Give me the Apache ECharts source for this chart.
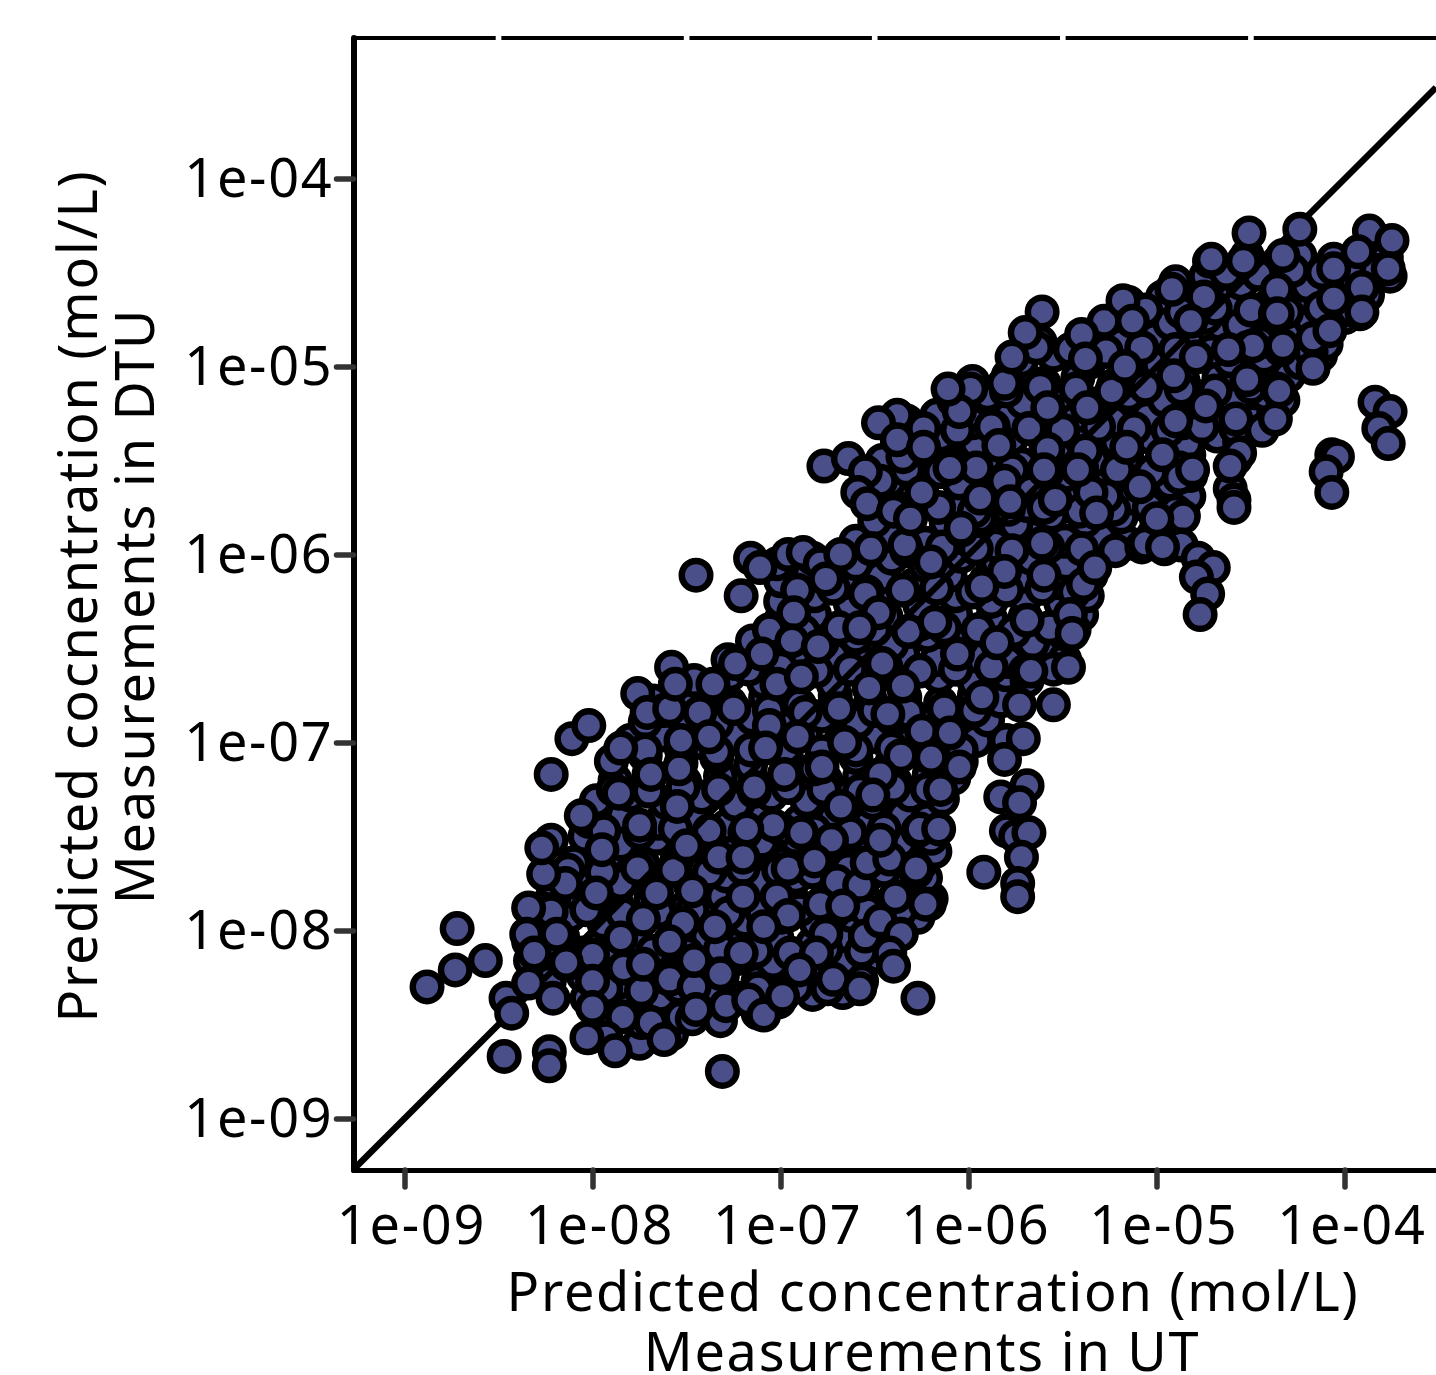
<!DOCTYPE html>
<html>
<head>
<meta charset="utf-8">
<style>html,body{margin:0;padding:0;background:#fff}#c{width:1436px;height:1375px}</style>
<script src="https://cdn.jsdelivr.net/npm/echarts@6/dist/echarts.min.js"></script>
</head>
<body>
<div id="c"></div>
<script>
// all values are log10(concentration, mol/L): [UT, DTU]
const tickExponents = [-9, -8, -7, -6, -5, -4];
const tickLabels = ['1e-09', '1e-08', '1e-07', '1e-06', '1e-05', '1e-04'];
const topBorderBreaks = [-8.5, -7.5, -6.5, -5.5, -4.5];
const identityLine = [[-9.271, -9.271], [-3.516, -3.516]];

const denseLower = [
[-8.02,-8.57],[-7.75,-8.6],[-7.58,-8.55],
[-7.96,-8.47],[-7.74,-8.49],[-7.53,-8.46],[-7.32,-8.48],[-7.12,-8.44],
[-8.03,-8.36],[-7.84,-8.38],[-7.64,-8.35],[-7.44,-8.39],[-7.22,-8.36],[-7.01,-8.38],[-6.83,-8.34],[-6.67,-8.33],
[-8.23,-8.27],[-8.05,-8.24],[-7.87,-8.28],[-7.68,-8.25],[-7.5,-8.29],[-7.31,-8.24],[-7.12,-8.27],[-6.94,-8.26],[-6.75,-8.23],[-6.57,-8.27],
[-8.33,-8.16],[-8.14,-8.18],[-7.97,-8.14],[-7.78,-8.17],[-7.6,-8.13],[-7.41,-8.18],[-7.23,-8.15],[-7.04,-8.17],[-6.86,-8.13],[-6.67,-8.16],[-6.48,-8.14],
[-8.34,-8.06],[-8.16,-8.03],[-7.95,-8.07],[-7.77,-8.04],[-7.58,-8.08],[-7.39,-8.03],[-7.2,-8.06],[-7.02,-8.04],[-6.83,-8.07],[-6.64,-8.03],[-6.46,-8.06],[-6.36,-8.02],
[-8.31,-7.95],[-8.12,-7.92],[-7.94,-7.96],[-7.75,-7.93],[-7.56,-7.97],[-7.37,-7.92],[-7.19,-7.95],[-7.0,-7.93],[-6.81,-7.96],[-6.63,-7.92],[-6.44,-7.95],[-6.27,-7.93],
[-8.23,-7.85],[-8.06,-7.82],[-7.87,-7.86],[-7.69,-7.83],[-7.5,-7.87],[-7.31,-7.82],[-7.12,-7.85],[-6.94,-7.83],[-6.75,-7.86],[-6.56,-7.82],[-6.38,-7.85],[-6.2,-7.83],
[-8.22,-7.74],[-8.04,-7.71],[-7.85,-7.75],[-7.66,-7.72],[-7.48,-7.76],[-7.29,-7.71],[-7.1,-7.74],[-6.92,-7.72],[-6.73,-7.75],[-6.54,-7.71],[-6.36,-7.74],[-6.23,-7.72],
[-8.1,-7.64],[-7.92,-7.61],[-7.73,-7.65],[-7.55,-7.62],[-7.36,-7.66],[-7.17,-7.61],[-6.98,-7.64],[-6.8,-7.62],[-6.61,-7.65],[-6.43,-7.61],[-6.25,-7.64],[-6.18,-7.58],
[-8.22,-7.52],[-8.04,-7.5],[-7.85,-7.54],[-7.66,-7.51],[-7.48,-7.55],[-7.29,-7.5],[-7.1,-7.53],[-6.92,-7.51],[-6.73,-7.54],[-6.54,-7.5],[-6.36,-7.53],[-6.2,-7.51],
[-8.02,-7.42],[-7.84,-7.39],[-7.65,-7.43],[-7.46,-7.4],[-7.28,-7.44],[-7.09,-7.39],[-6.9,-7.42],[-6.72,-7.4],[-6.53,-7.43],[-6.35,-7.39],[-6.22,-7.41]
];
const denseMiddle = [
[-7.98,-7.31],[-7.8,-7.28],[-7.61,-7.32],[-7.42,-7.29],[-7.24,-7.33],[-7.05,-7.28],[-6.86,-7.31],[-6.68,-7.29],[-6.49,-7.32],[-6.31,-7.28],[-6.14,-7.3],
[-7.88,-7.2],[-7.7,-7.17],[-7.51,-7.21],[-7.32,-7.18],[-7.14,-7.22],[-6.95,-7.17],[-6.76,-7.2],[-6.58,-7.18],[-6.39,-7.21],[-6.21,-7.17],[-6.08,-7.19],
[-7.9,-7.1],[-7.72,-7.07],[-7.53,-7.11],[-7.34,-7.08],[-7.16,-7.12],[-6.97,-7.07],[-6.78,-7.1],[-6.6,-7.08],[-6.41,-7.11],[-6.23,-7.07],[-6.04,-7.1],
[-7.8,-6.99],[-7.62,-6.96],[-7.43,-7.0],[-7.24,-6.97],[-7.06,-7.01],[-6.87,-6.96],[-6.68,-6.99],[-6.5,-6.97],[-6.31,-7.0],[-6.13,-6.96],[-5.96,-6.99],
[-7.72,-6.89],[-7.53,-6.86],[-7.34,-6.9],[-7.15,-6.87],[-6.97,-6.91],[-6.78,-6.86],[-6.59,-6.89],[-6.41,-6.87],[-6.22,-6.9],[-6.04,-6.86],[-5.9,-6.88],
[-7.68,-6.78],[-7.46,-6.75],[-7.27,-6.79],[-7.08,-6.76],[-6.9,-6.8],[-6.71,-6.75],[-6.52,-6.78],[-6.34,-6.76],[-6.15,-6.79],[-5.97,-6.75],[-5.83,-6.78],
[-7.46,-6.67],[-7.27,-6.64],[-7.09,-6.68],[-6.9,-6.65],[-6.72,-6.69],[-6.53,-6.64],[-6.34,-6.67],[-6.16,-6.65],[-5.97,-6.68],[-5.8,-6.64],[-5.69,-6.67],
[-7.28,-6.56],[-7.1,-6.53],[-6.91,-6.57],[-6.72,-6.54],[-6.54,-6.58],[-6.35,-6.53],[-6.17,-6.56],[-5.98,-6.54],[-5.79,-6.57],[-5.6,-6.53],[-5.49,-6.56],
[-7.15,-6.46],[-6.97,-6.43],[-6.78,-6.47],[-6.6,-6.44],[-6.41,-6.48],[-6.22,-6.43],[-6.04,-6.46],[-5.85,-6.44],[-5.66,-6.47],[-5.47,-6.43],
[-7.0,-6.35],[-6.82,-6.32],[-6.63,-6.36],[-6.44,-6.33],[-6.26,-6.37],[-6.07,-6.32],[-5.88,-6.35],[-5.7,-6.33],[-5.51,-6.36],[-5.4,-6.32],
[-7.0,-6.25],[-6.82,-6.22],[-6.63,-6.26],[-6.44,-6.23],[-6.26,-6.27],[-6.07,-6.22],[-5.88,-6.25],[-5.7,-6.23],[-5.51,-6.26],[-5.37,-6.22],
[-7.0,-6.14],[-6.85,-6.11],[-6.66,-6.15],[-6.47,-6.12],[-6.29,-6.16],[-6.1,-6.11],[-5.91,-6.14],[-5.73,-6.12],[-5.54,-6.15],[-5.35,-6.11],
[-7.02,-6.05],[-6.83,-6.02],[-6.6,-6.05],[-6.41,-6.02],[-6.23,-6.06],[-6.04,-6.01],[-5.85,-6.04],[-5.67,-6.02],[-5.48,-6.05],[-5.32,-6.02]
];
const denseUpper = [
[-6.6,-5.93],[-6.42,-5.9],[-6.23,-5.94],[-6.05,-5.91],[-5.86,-5.95],[-5.67,-5.9],[-5.49,-5.93],[-5.3,-5.91],[-5.15,-5.94],[-5.02,-5.9],[-4.9,-5.92],
[-6.5,-5.82],[-6.31,-5.79],[-6.12,-5.83],[-5.94,-5.8],[-5.75,-5.84],[-5.56,-5.79],[-5.38,-5.82],[-5.19,-5.8],[-5.0,-5.83],[-4.86,-5.79],
[-6.44,-5.72],[-6.25,-5.69],[-6.06,-5.73],[-5.88,-5.7],[-5.69,-5.74],[-5.5,-5.69],[-5.32,-5.72],[-5.13,-5.7],[-4.95,-5.73],[-4.83,-5.69],
[-6.42,-5.61],[-6.24,-5.58],[-6.05,-5.62],[-5.86,-5.59],[-5.68,-5.63],[-5.49,-5.58],[-5.3,-5.61],[-5.12,-5.59],[-4.93,-5.62],[-4.82,-5.58],
[-6.46,-5.5],[-6.28,-5.47],[-6.09,-5.51],[-5.9,-5.48],[-5.72,-5.52],[-5.53,-5.47],[-5.34,-5.5],[-5.16,-5.48],[-4.97,-5.51],[-4.83,-5.47],[-4.58,-5.49],
[-6.33,-5.4],[-6.15,-5.37],[-5.96,-5.41],[-5.77,-5.38],[-5.59,-5.42],[-5.4,-5.37],[-5.21,-5.4],[-5.03,-5.38],[-4.84,-5.41],[-4.68,-5.37],[-4.56,-5.4],
[-6.33,-5.29],[-6.17,-5.26],[-5.98,-5.3],[-5.79,-5.27],[-5.61,-5.31],[-5.42,-5.26],[-5.23,-5.29],[-5.05,-5.27],[-4.86,-5.3],[-4.67,-5.26],[-4.49,-5.29],[-4.38,-5.26],
[-6.08,-5.18],[-5.9,-5.15],[-5.71,-5.19],[-5.52,-5.16],[-5.34,-5.2],[-5.15,-5.15],[-4.96,-5.18],[-4.78,-5.16],[-4.59,-5.19],[-4.42,-5.15],[-4.33,-5.18],
[-5.98,-5.08],[-5.79,-5.05],[-5.6,-5.09],[-5.42,-5.06],[-5.23,-5.1],[-5.04,-5.05],[-4.86,-5.08],[-4.67,-5.06],[-4.48,-5.09],[-4.3,-5.05],
[-5.72,-4.97],[-5.55,-4.94],[-5.36,-4.98],[-5.17,-4.95],[-4.99,-4.99],[-4.8,-4.94],[-4.61,-4.97],[-4.43,-4.95],[-4.24,-4.98],[-4.13,-4.94],
[-5.62,-4.87],[-5.38,-4.84],[-5.2,-4.88],[-5.01,-4.85],[-4.82,-4.89],[-4.64,-4.84],[-4.45,-4.87],[-4.26,-4.85],[-4.1,-4.88],
[-5.28,-4.76],[-5.12,-4.73],[-4.93,-4.77],[-4.74,-4.74],[-4.56,-4.78],[-4.37,-4.73],[-4.18,-4.76],[-4.0,-4.74],[-3.92,-4.72],
[-5.15,-4.66],[-4.97,-4.63],[-4.78,-4.67],[-4.6,-4.64],[-4.41,-4.68],[-4.22,-4.63],[-4.04,-4.66],[-3.88,-4.62],
[-4.9,-4.55],[-4.74,-4.52],[-4.55,-4.56],[-4.37,-4.53],[-4.2,-4.57],[-4.04,-4.53],[-3.9,-4.56],[-3.76,-4.52],
[-4.72,-4.44],[-4.52,-4.41],[-4.36,-4.45],[-4.24,-4.41],[-4.06,-4.43],[-3.92,-4.44],[-3.78,-4.42]
];
const infillLower = [
[-7.93,-8.31],[-7.74,-8.32],[-7.54,-8.3],[-7.33,-8.32],[-7.12,-8.31],[-6.92,-8.3],[-6.75,-8.31],
[-8.24,-8.11],[-8.05,-8.12],[-7.87,-8.1],[-7.68,-8.11],[-7.5,-8.12],[-7.32,-8.1],[-7.13,-8.11],[-6.95,-8.12],[-6.76,-8.1],[-6.57,-8.11],
[-8.22,-7.9],[-8.03,-7.89],[-7.84,-7.91],[-7.65,-7.9],[-7.47,-7.89],[-7.28,-7.91],[-7.1,-7.9],[-6.9,-7.89],[-6.72,-7.91],[-6.54,-7.9],[-6.36,-7.89],
[-8.13,-7.68],[-7.95,-7.69],[-7.76,-7.67],[-7.57,-7.68],[-7.38,-7.69],[-7.2,-7.67],[-7.01,-7.68],[-6.83,-7.69],[-6.64,-7.67],[-6.45,-7.68],[-6.28,-7.69],
[-7.94,-7.47],[-7.75,-7.48],[-7.56,-7.46],[-7.38,-7.47],[-7.19,-7.48],[-7.0,-7.46],[-6.82,-7.47],[-6.63,-7.48],[-6.45,-7.46],[-6.27,-7.47]
];
const infillMiddle = [
[-7.89,-7.25],[-7.7,-7.26],[-7.52,-7.24],[-7.33,-7.25],[-7.14,-7.26],[-6.96,-7.24],[-6.77,-7.25],[-6.58,-7.26],[-6.4,-7.24],[-6.22,-7.25],
[-7.72,-7.04],[-7.53,-7.03],[-7.34,-7.05],[-7.16,-7.04],[-6.97,-7.03],[-6.78,-7.05],[-6.6,-7.04],[-6.41,-7.03],[-6.22,-7.05],[-6.04,-7.04],
[-7.62,-6.83],[-7.43,-6.84],[-7.25,-6.82],[-7.06,-6.83],[-6.87,-6.84],[-6.69,-6.82],[-6.5,-6.83],[-6.32,-6.84],[-6.13,-6.82],[-5.97,-6.83],
[-7.17,-6.61],[-7.0,-6.6],[-6.81,-6.62],[-6.63,-6.61],[-6.44,-6.6],[-6.26,-6.62],[-6.07,-6.61],[-5.88,-6.6],[-5.7,-6.62],[-5.55,-6.61],
[-7.06,-6.4],[-6.88,-6.41],[-6.69,-6.39],[-6.5,-6.4],[-6.32,-6.41],[-6.13,-6.39],[-5.95,-6.4],[-5.76,-6.41],[-5.57,-6.39],[-5.44,-6.4],
[-6.91,-6.19],[-6.72,-6.18],[-6.54,-6.2],[-6.35,-6.19],[-6.17,-6.18],[-5.98,-6.2],[-5.8,-6.19],[-5.61,-6.18],[-5.44,-6.2]
];
const infillUpper = [
[-6.52,-5.97],[-6.33,-5.98],[-6.14,-5.96],[-5.96,-5.97],[-5.77,-5.98],[-5.58,-5.96],[-5.4,-5.97],[-5.22,-5.98],[-5.08,-5.96],[-4.96,-5.97],
[-6.35,-5.76],[-6.16,-5.75],[-5.97,-5.77],[-5.79,-5.76],[-5.6,-5.75],[-5.41,-5.77],[-5.23,-5.76],[-5.04,-5.75],[-4.9,-5.77],
[-6.33,-5.55],[-6.15,-5.56],[-5.96,-5.54],[-5.77,-5.55],[-5.58,-5.56],[-5.4,-5.54],[-5.21,-5.55],[-5.03,-5.56],[-4.88,-5.54],
[-6.24,-5.33],[-6.06,-5.34],[-5.87,-5.32],[-5.68,-5.33],[-5.5,-5.34],[-5.31,-5.32],[-5.12,-5.33],[-4.94,-5.34],[-4.76,-5.32],[-4.58,-5.33],[-4.44,-5.34],
[-5.99,-5.12],[-5.8,-5.13],[-5.62,-5.11],[-5.43,-5.12],[-5.24,-5.13],[-5.06,-5.11],[-4.87,-5.12],[-4.69,-5.13],[-4.5,-5.11],[-4.36,-5.12],
[-5.46,-4.91],[-5.27,-4.92],[-5.08,-4.9],[-4.9,-4.91],[-4.71,-4.92],[-4.52,-4.9],[-4.34,-4.91],[-4.18,-4.92],
[-5.06,-4.7],[-4.87,-4.71],[-4.69,-4.69],[-4.5,-4.7],[-4.31,-4.71],[-4.13,-4.69],[-3.96,-4.7],
[-4.63,-4.5],[-4.46,-4.51],[-4.28,-4.49],[-4.12,-4.5],[-3.97,-4.51],[-3.83,-4.49]
];
const visibleLower = [
[-8.72,-7.99],[-8.57,-8.16],[-8.73,-8.21],[-8.88,-8.3],[-8.46,-8.36],[-8.43,-8.44],[-8.47,-8.67],[-8.23,-8.645],[-8.23,-8.72],
[-8.34,-7.88],[-8.35,-8.02],[-8.19,-8.02],[-8.31,-8.12],[-8.34,-8.28],[-8.0,-8.13],[-8.0,-8.27],[-8.21,-8.36],[-8.14,-8.17],
[-8.145,-7.75],[-8.26,-7.7],[-7.98,-7.8],[-7.73,-7.94],[-7.66,-7.8],[-7.47,-7.79],[-7.52,-7.96],[-7.85,-8.04],[-7.59,-8.06],
[-7.835,-8.2],[-7.59,-8.26],[-7.46,-8.3],[-7.46,-8.16],[-8.0,-8.41],[-7.84,-8.46],[-7.69,-8.49],[-7.62,-8.58],[-7.93,-8.57],[-8.03,-8.57],[-7.88,-8.64],
[-7.73,-8.18],[-7.47,-8.47],[-7.45,-8.42],[-7.29,-8.4],[-7.31,-8.75],[-7.17,-8.37],[-7.09,-8.45],[-6.99,-8.35],[-6.72,-8.26],[-6.58,-8.31],[-6.27,-8.36],
[-7.33,-7.61],[-7.2,-7.61],[-7.35,-7.98],[-7.32,-8.23],[-7.2,-7.82],[-7.02,-7.82],[-6.96,-7.92],[-7.09,-7.98],[-6.96,-7.67],[-7.04,-7.44],[-7.18,-7.46],[-6.89,-7.48],[-6.73,-7.52],
[-6.82,-7.63],[-6.7,-7.74],[-6.58,-7.76],[-6.79,-7.86],[-6.67,-7.87],[-6.39,-7.82],[-6.21,-7.86],[-6.55,-8.03],[-6.76,-8.02],[-6.47,-7.95],[-6.36,-8.02],[-6.42,-8.12],[-6.4,-8.19],
[-6.81,-8.12],[-7.21,-8.12],[-6.9,-8.21],[-6.54,-7.64],[-6.42,-7.62],[-6.28,-7.67],[-6.26,-7.46],[-6.16,-7.46],[-5.92,-7.69],[-6.47,-7.52],[-6.68,-7.34],[-6.51,-7.32],
[-7.54,-7.14],[-7.69,-7.17],[-7.86,-7.27],[-7.55,-7.34],[-8.06,-7.39],[-7.75,-7.44],[-8.27,-7.56],[-7.95,-7.57],[-7.5,-7.55],[-7.14,-7.24],[-6.82,-7.14],[-6.98,-7.17]
];
const visibleMiddle = [
[-8.22,-7.17],[-8.11,-6.98],[-8.02,-6.91],[-7.85,-7.03],[-7.76,-6.74],[-7.71,-6.84],[-7.59,-6.82],[-7.58,-6.6],[-7.56,-6.69],[-7.53,-6.99],[-7.38,-6.97],[-7.36,-6.69],
[-7.24,-6.58],[-7.1,-6.53],[-7.02,-6.69],[-6.89,-6.65],[-7.06,-6.91],[-6.91,-6.97],[-7.08,-7.03],[-7.45,-6.11],[-7.21,-6.22],[-7.16,-6.02],[-7.11,-6.07],[-6.96,-6.0],[-6.88,-5.99],[-6.79,-6.05],[-6.76,-6.13],
[-6.68,-6.0],[-6.34,-5.95],[-6.2,-6.04],[-6.04,-5.87],[-6.55,-6.21],[-6.48,-6.31],[-6.93,-6.31],[-6.18,-6.36],[-6.58,-6.39],[-6.94,-6.46],[-6.8,-6.49],[-6.06,-6.53],[-6.46,-6.58],[-6.35,-6.7],[-6.53,-6.71],
[-6.43,-6.85],[-6.25,-6.94],[-6.1,-6.95],[-6.66,-7.0],[-6.36,-7.07],[-6.78,-7.13],[-6.2,-7.08],[-6.05,-7.13],[-6.47,-7.17],[-6.15,-7.25],[-6.51,-7.28],
[-5.69,-6.35],[-5.46,-6.32],[-5.45,-6.42],[-5.85,-6.47],[-5.67,-6.62],[-5.47,-6.6],[-5.55,-6.8],[-5.73,-6.8],[-5.93,-6.76],
[-5.8,-6.99],[-5.71,-6.98],[-5.81,-7.09],[-5.69,-7.23],[-5.83,-7.29],[-5.73,-7.32],[-5.8,-7.47],[-5.75,-7.5],[-5.68,-7.48],[-5.72,-7.61],[-5.74,-7.75],[-5.74,-7.82],[-6.23,-7.86],
[-6.77,-5.53],[-6.64,-5.49],[-6.47,-5.61],[-6.55,-5.56],[-6.59,-5.67],[-6.54,-5.73],[-6.43,-5.31],[-6.38,-5.26],[-6.48,-5.3],[-6.35,-5.48],[-6.38,-5.39],[-6.24,-5.43],[-6.05,-5.24],[-6.11,-5.12],
[-5.81,-5.09],[-5.58,-5.22],[-5.37,-5.22],[-5.88,-5.32],[-5.84,-5.42],[-6.1,-5.54],[-6.25,-5.67],[-5.58,-5.44],[-5.81,-5.61],[-5.94,-5.7],[-5.54,-5.71],[-6.4,-5.77],[-6.31,-5.81],[-5.78,-5.72],[-6.04,-5.86],
[-5.81,-6.09],[-5.6,-6.11],[-5.39,-6.16],[-5.93,-6.17],[-5.27,-5.69],[-5.35,-5.67]
];
const visibleUpper = [
[-5.61,-4.71],[-5.64,-4.9],[-5.7,-4.82],[-5.77,-4.95],[-5.4,-4.83],[-5.38,-4.96],[-5.18,-4.65],[-5.13,-4.76],[-4.92,-4.59],[-4.75,-4.63],[-4.37,-4.72],[-4.49,-4.89],[-4.52,-5.07],[-5.17,-5.0],[-4.91,-5.05],[-4.9,-5.29],
[-4.58,-5.28],[-4.37,-5.28],[-5.16,-5.43],[-4.97,-5.47],[-4.56,-5.46],[-5.38,-5.45],[-5.09,-5.64],[-4.61,-5.65],[-4.59,-5.71],[-4.61,-5.53],[-4.86,-5.8],[-4.87,-5.95],[-4.78,-6.02],[-4.7,-6.07],[-4.79,-6.12],[-4.73,-6.21],[-4.77,-6.32],
[-5.06,-5.94],[-4.97,-5.96],[-5.33,-6.07],[-5.61,-5.94],[-5.42,-5.55],[-5.6,-5.55],[-5.32,-5.78],[-5.0,-5.81],[-4.88,-5.59],[-4.81,-5.55],[-4.74,-5.21],[-4.79,-4.95],[-4.82,-4.76],
[-4.51,-4.29],[-4.24,-4.27],[-4.71,-4.43],[-4.54,-4.44],[-4.33,-4.41],[-3.87,-4.28],[-3.75,-4.33],[-3.93,-4.39],[-3.77,-4.48],[-3.91,-4.58],[-4.06,-4.64],[-4.06,-4.48],[-3.91,-4.71],[-4.36,-4.59],[-4.36,-4.72],
[-4.33,-4.89],[-4.17,-4.85],[-4.17,-5.01],[-4.08,-4.81],[-4.35,-5.13],[-4.59,-5.75],[-3.84,-5.19],[-3.76,-5.24],[-3.82,-5.33],[-3.77,-5.41],[-4.07,-5.47],[-4.04,-5.48],[-4.1,-5.56],[-4.07,-5.67],[-4.62,-4.91]
];

// The reference's text runs a little wider than the installed font's natural advance
const nativeGetContext = HTMLCanvasElement.prototype.getContext;
HTMLCanvasElement.prototype.getContext = function (...args) {
  const ctx = nativeGetContext.apply(this, args);
  if (ctx && args[0] === '2d') ctx.letterSpacing = '1.75px';
  return ctx;
};

const axisBase = {
  type: 'value',
  axisTick: {show: true, customValues: tickExponents, length: 17, lineStyle: {color: '#333', width: 5.5, cap: 'round'}},
  splitLine: {show: false},
  minorTick: {show: false}
};
const labelFor = v => tickLabels[tickExponents.indexOf(Math.round(v))];
const labelBase = {show: true, customValues: tickExponents, formatter: labelFor, color: '#000', fontFamily: 'Noto Sans', fontSize: 54, hideOverlap: false, showMinLabel: true, showMaxLabel: true};

const topBorder = [];
let start = -9.271;
topBorderBreaks.forEach(b => { topBorder.push([start, -3.253], [b - 0.015, -3.253], null); start = b + 0.015; });
topBorder.push([start, -3.253], [-3.516, -3.253]);

const pointStyle = {type: 'scatter', symbol: 'circle', symbolSize: 28.5, silent: true, animation: false,
  itemStyle: {color: '#4A4F8A', borderColor: '#000', borderWidth: 6.5, opacity: 1}, large: false};

const titleText = (text, x, y, rot) => ({type: 'text', x, y, rotation: rot, style: {text, fill: '#000', font: '54px "Noto Sans"', textAlign: 'center', textVerticalAlign: 'middle'}});

const chart = echarts.init(document.getElementById('c'), null, {renderer: 'canvas'});
chart.setOption({
  animation: false,
  backgroundColor: '#fff',
  grid: {left: 353.5, right: 0, top: 38, bottom: 205},
  xAxis: Object.assign({}, axisBase, {min: -9.271, max: -3.516,
    axisLine: {show: true, lineStyle: {color: '#000', width: 5, cap: 'round'}},
    axisLabel: Object.assign({}, labelBase, {margin: 31, padding: [0, 0, 0, 14]})}),
  yAxis: Object.assign({}, axisBase, {min: -9.274, max: -3.253,
    axisLine: {show: true, lineStyle: {color: '#000', width: 6, cap: 'round'}},
    axisLabel: Object.assign({}, labelBase, {margin: 20, verticalAlign: 'bottom', padding: [0, 0, -31, 0]})}),
  graphic: [
    titleText('Predicted concentration (mol/L)', 933, 1296, 0),
    titleText('Measurements in UT', 922, 1356, 0),
    titleText('Predicted cocnentration (mol/L)', 82, 596, Math.PI / 2),
    titleText('Measurements in DTU', 139, 606, Math.PI / 2)
  ],
  series: [
    {type: 'line', data: topBorder, showSymbol: false, clip: false, silent: true, z: 1, connectNulls: false,
      lineStyle: {color: '#000', width: 4, cap: 'butt'}},
    Object.assign({}, pointStyle, {data: denseLower, z: 2}),
    Object.assign({}, pointStyle, {data: denseMiddle, z: 2}),
    Object.assign({}, pointStyle, {data: denseUpper, z: 2}),
    Object.assign({}, pointStyle, {data: infillLower, z: 2}),
    Object.assign({}, pointStyle, {data: infillMiddle, z: 2}),
    Object.assign({}, pointStyle, {data: infillUpper, z: 2}),
    {type: 'line', data: identityLine, showSymbol: false, silent: true, z: 3, lineStyle: {color: '#000', width: 6.5}},
    Object.assign({}, pointStyle, {data: visibleLower, z: 4}),
    Object.assign({}, pointStyle, {data: visibleMiddle, z: 4}),
    Object.assign({}, pointStyle, {data: visibleUpper, z: 4})
  ]
});
</script>
</body>
</html>
